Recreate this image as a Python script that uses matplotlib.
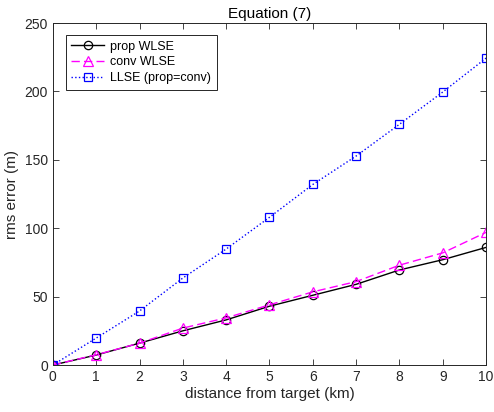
import numpy as np
import matplotlib
matplotlib.use("Agg")
import matplotlib.pyplot as plt

plt.rcParams["font.family"] = ["Liberation Sans", "DejaVu Sans"]

# Data
distance = [0, 1, 2, 3, 4, 5, 6, 7, 8, 9, 10]
prop_wlse = [0, 7.3, 16, 25, 33, 43, 51, 59, 69.5, 77, 86]
conv_wlse = [0, 7.5, 16, 27, 34.5, 44, 53.5, 61, 73, 82, 97]
llse = [0, 19.7, 39.5, 63.6, 84.8, 108, 132, 152.8, 176, 199.6, 224.4]

fig = plt.figure(figsize=(4.94, 4.12), dpi=100)
ax = fig.add_axes([0.107, 0.114, 0.877, 0.83])

ax.plot(distance, prop_wlse, "-o", color="black", lw=1.0, ms=6,
        mfc="none", mew=0.9, label="prop WLSE")
ax.plot(distance, conv_wlse, "--^", color="#ff00ff", lw=1.0, ms=7,
        mfc="none", mew=0.9, dashes=(6, 3), label="conv WLSE")
ax.plot(distance, llse, ":s", color="blue", lw=1.0, ms=5.5,
        mfc="none", mew=0.9, label="LLSE (prop=conv)")

ax.set_xlim(0, 10)
ax.set_ylim(0, 250)
ax.set_xticks(range(0, 11))
ax.set_yticks([0, 50, 100, 150, 200, 250])
ax.tick_params(direction="in", top=True, right=True, labelsize=10,
               colors="#262626", length=4, width=0.6)
for s in ax.spines.values():
    s.set_color("#262626")
    s.set_linewidth(0.7)

ax.set_xlabel("distance from target (km)", fontsize=11, color="#262626", labelpad=2)
ax.set_ylabel("rms error (m)", fontsize=11, color="#262626", labelpad=4)
ax.set_title("Equation (7)", fontsize=11, color="black", pad=4)

leg = ax.legend(loc="upper left", bbox_to_anchor=(0.03, 0.965), borderaxespad=0,
                fontsize=9, fancybox=False, edgecolor="#262626", framealpha=1,
                handlelength=2.6, handletextpad=0.5, borderpad=0.45,
                labelspacing=0.3)
leg.get_frame().set_linewidth(0.7)

fig.savefig("out.png", dpi=100)
